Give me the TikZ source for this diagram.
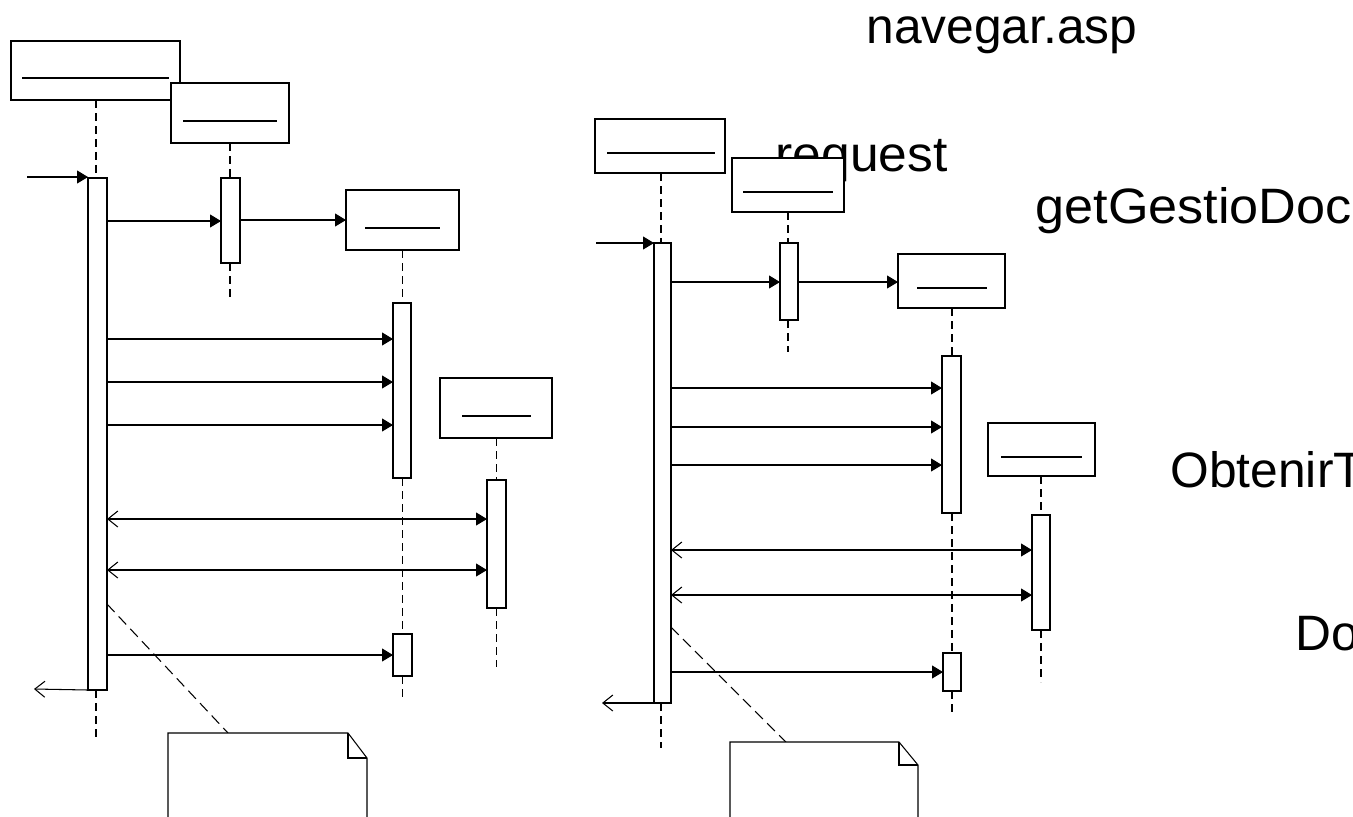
\documentclass[tikz,border=0pt]{standalone}
\usepackage{fontspec}
\setmainfont{Liberation Sans}
\usetikzlibrary{arrows.meta,fit}
\begin{document}
\begin{tikzpicture}[x=0.02cm,y=-0.02cm,line width=0.6pt,
  obj/.style={draw,fill=white,inner sep=0pt,outer sep=0pt,rectangle},
  act/.style={draw,fill=white,inner sep=0pt,outer sep=0pt,rectangle},
  uline/.style={line width=0.7pt},
  life/.style={dash pattern=on 0.16cm off 0.1cm},
  notelink/.style={dash pattern=on 0.22cm off 0.12cm},
  msg/.style={-{Triangle[length=0.22cm,width=0.26cm]}},
  dbl/.style={{Straight Barb[length=0.2cm,width=0.32cm]}-{Triangle[length=0.22cm,width=0.26cm]}},
  ret/.style={-{Straight Barb[length=0.2cm,width=0.32cm]}},
  lbl/.style={anchor=base west,inner sep=0pt,font=\fontsize{28.3pt}{30pt}\selectfont}]
\useasboundingbox (0,0) rectangle (1353,816);

% ---- texts (drawn first, boxes cover them)
\node[lbl] (t1) at (866,43) {navegar.asp};
\node[lbl] (t2) at (775,171) {\scalebox{1.037}[1]{request}};
\node[lbl] (t3) at (1035,223) {\scalebox{1.05}[1]{getGestioDoc}};
\node[lbl] (t4) at (1170,487) {ObtenirT};
\node[lbl] (t5) at (1295,650) {Do};

% ================= LEFT DIAGRAM =================
\node[obj,fit={(11,41) (180,100)}] (A) {};
\draw[uline] (22,78) -- (169,78);
\node[obj,fit={(171,83) (289,143)}] (B) {};
\draw[uline] (183,121) -- (277,121);
\node[obj,fit={(346,190) (459,250)}] (C) {};
\draw[uline] (365,228) -- (440,228);
\node[obj,fit={(440,378) (552,438)}] (D) {};
\draw[uline] (462,416) -- (531,416);

% lifeline end points
\coordinate (Aend) at (96,741);
\coordinate (Bend) at (230,298);
\coordinate (Cend) at (402.5,701);
\coordinate (Dend) at (496.5,667);

% lifelines
\draw[life] (A.south -| Aend) -- (Aend |- 0,178);
\draw[life] (Aend |- 0,690) -- (Aend);
\draw[life] (B.south -| Bend) -- (Bend |- 0,178);
\draw[life] (Bend |- 0,263) -- (Bend);
\draw[life] (C.south -| Cend) -- (Cend |- 0,303);
\draw[life] (Cend |- 0,478) -- (Cend |- 0,634);
\draw[life] (Cend |- 0,676) -- (Cend);
\draw[life] (D.south -| Dend) -- (Dend |- 0,480);
\draw[life] (Dend |- 0,608) -- (Dend);

% activations
\node[act,fit={(88,178) (107,690)}] (aA) {};
\node[act,fit={(221,178) (240,263)}] (aB) {};
\node[act,fit={(393,303) (411,478)}] (aC1) {};
\node[act,fit={(487,480) (506,608)}] (aD) {};
\node[act,fit={(393,634) (412,676)}] (aC2) {};

% messages
\coordinate (inL) at (27,177);
\coordinate (m1) at (0,221);
\coordinate (m2) at (0,220);
\coordinate (m3) at (0,339);
\coordinate (m4) at (0,382);
\coordinate (m5) at (0,425);
\coordinate (m6) at (0,519);
\coordinate (m7) at (0,570);
\coordinate (m8) at (0,655);
\coordinate (retL) at (34,689);
\draw[msg] (inL) -- (aA.west |- inL);
\draw[msg] (aA.east |- m1) -- (aB.west |- m1);
\draw[msg] (aB.east |- m2) -- (C.west |- m2);
\draw[msg] (aA.east |- m3) -- (aC1.west |- m3);
\draw[msg] (aA.east |- m4) -- (aC1.west |- m4);
\draw[msg] (aA.east |- m5) -- (aC1.west |- m5);
\draw[dbl] (aA.east |- m6) -- (aD.west |- m6);
\draw[dbl] (aA.east |- m7) -- (aD.west |- m7);
\draw[msg] (aA.east |- m8) -- (aC2.west |- m8);
\draw[ret] (aA.south west) -- (retL);

% note
\coordinate (nL) at (228,733);
\draw[notelink] (aA.east |- 0,604) -- (nL);
\draw[fill=white] (168,830) -- (168,733) -- (348,733) -- (367,758) -- (367,830);
\draw (348,733) -- (348,758) -- (367,758);

% ================= RIGHT DIAGRAM =================
\node[obj,fit={(595,119) (725,173)}] (E) {};
\draw[uline] (607,153) -- (715,153);
\node[obj,fit={(732,158) (844,212)}] (F) {};
\draw[uline] (743,192) -- (833,192);
\node[obj,fit={(898,254) (1005,308)}] (G) {};
\draw[uline] (917,288) -- (987,288);
\node[obj,fit={(988,423) (1095,476)}] (H) {};
\draw[uline] (1001,457) -- (1082,457);

\coordinate (Eend) at (661,748);
\coordinate (Fend) at (788,352);
\coordinate (Gend) at (952,713);
\coordinate (Hend) at (1041,682);

\draw[life] (E.south -| Eend) -- (Eend |- 0,243);
\draw[life] (Eend |- 0,703) -- (Eend);
\draw[life] (F.south -| Fend) -- (Fend |- 0,243);
\draw[life] (Fend |- 0,320) -- (Fend);
\draw[life] (G.south -| Gend) -- (Gend |- 0,356);
\draw[life] (Gend |- 0,513) -- (Gend |- 0,653);
\draw[life] (Gend |- 0,691) -- (Gend);
\draw[life] (H.south -| Hend) -- (Hend |- 0,515);
\draw[life] (Hend |- 0,630) -- (Hend);

\node[act,fit={(654,243) (671,703)}] (aE) {};
\node[act,fit={(780,243) (798,320)}] (aF) {};
\node[act,fit={(942,356) (961,513)}] (aG1) {};
\node[act,fit={(1032,515) (1050,630)}] (aH) {};
\node[act,fit={(943,653) (961,691)}] (aG2) {};

\coordinate (inR) at (596,243);
\coordinate (r1) at (0,282);
\coordinate (r3) at (0,388);
\coordinate (r4) at (0,427);
\coordinate (r5) at (0,465);
\coordinate (r6) at (0,550);
\coordinate (r7) at (0,595);
\coordinate (r8) at (0,672);
\coordinate (retR) at (602,703);
\draw[msg] (inR) -- (aE.west |- inR);
\draw[msg] (aE.east |- r1) -- (aF.west |- r1);
\draw[msg] (aF.east |- r1) -- (G.west |- r1);
\draw[msg] (aE.east |- r3) -- (aG1.west |- r3);
\draw[msg] (aE.east |- r4) -- (aG1.west |- r4);
\draw[msg] (aE.east |- r5) -- (aG1.west |- r5);
\draw[dbl] (aE.east |- r6) -- (aH.west |- r6);
\draw[dbl] (aE.east |- r7) -- (aH.west |- r7);
\draw[msg] (aE.east |- r8) -- (aG2.west |- r8);
\draw[ret] (aE.south west) -- (retR);

\coordinate (nR) at (786,742);
\draw[notelink] (aE.east |- 0,627) -- (nR);
\draw[fill=white] (730,830) -- (730,742) -- (899,742) -- (918,765) -- (918,830);
\draw (899,742) -- (899,765) -- (918,765);
\end{tikzpicture}
\end{document}
